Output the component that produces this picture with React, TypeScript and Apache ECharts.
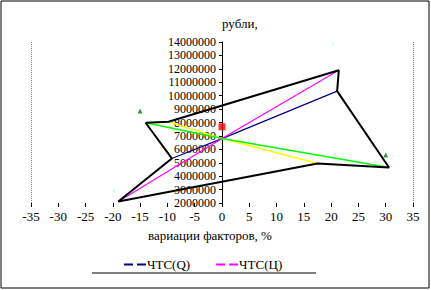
import React, { useEffect, useRef } from "react";
import * as echarts from "echarts";

// Sensitivity lines (x: variation of factor, %; y: NPV, rubles)
const qX = [-9.2, 0, 21.1];
const qY = [5320000, 6800000, 10340000];
const cX = [-19.0, 0, 21.4];
const cY = [2110000, 6800000, 11890000];
const yellowX = [-9.8, 0, 17.5];
const yellowY = [8050000, 6800000, 4950000];
const greenX = [-14.0, 0, 30.6];
const greenY = [7980000, 6800000, 4650000];
// Envelope connecting the line endpoints
const envX = [-14.0, -9.8, 21.4, 21.1, 30.6, 17.5, -19.0, -9.2, -14.0];
const envY = [7980000, 8050000, 11890000, 10340000, 4650000, 4950000, 2110000, 5320000, 7980000];
// Single markers
const triX = [-15, 30];
const triY = [8850000, 5570000];
const squareX = [0];
const squareY = [7680000];
const cyanX = [20.3, -19.8];
const cyanY = [13930000, 2970000];

const xTicks = { min: -35, max: 35, interval: 5 };
const yTicks = { min: 2000000, max: 14000000, interval: 1000000 };
const legendNames = ["ЧТС(Q)", "ЧТС(Ц)"];

const zip = (xs: number[], ys: number[]) => xs.map((x, i) => [x, ys[i]]);

const FONT = "Liberation Serif";
const W = 431;
const GRID = { left: 31, right: 18, top: 42, bottom: 87 };

export default function App() {
  const ref = useRef<HTMLDivElement>(null);
  useEffect(() => {
    if (!ref.current) return;
    const chart = echarts.init(ref.current, undefined, { renderer: "svg" });
    const textStyle = { fontFamily: FONT, fontSize: 13, color: "#000" };
    const plotW = W - GRID.left - GRID.right;
    const yAxisOffset = -((0 - xTicks.min) / (xTicks.max - xTicks.min)) * plotW;
    chart.setOption({
      animation: false,
      backgroundColor: "#fff",
      textStyle,
      grid: { ...GRID, outerBoundsMode: "none", containLabel: false },
      xAxis: {
        type: "value",
        min: xTicks.min,
        max: xTicks.max,
        interval: xTicks.interval,
        name: "вариации факторов, %",
        nameLocation: "middle",
        nameGap: 26,
        nameTextStyle: { ...textStyle, padding: [0, 24, 0, 0] },
        axisLine: { show: true, onZero: false, lineStyle: { color: "rgba(0,0,0,0)" } },
        axisTick: { show: true, length: 4, lineStyle: { color: "#000" } },
        axisLabel: { ...textStyle, margin: 7 },
        splitLine: { show: false },
      },
      yAxis: {
        type: "value",
        position: "left",
        offset: yAxisOffset,
        min: yTicks.min,
        max: yTicks.max,
        interval: yTicks.interval,
        name: "рубли,",
        nameLocation: "end",
        nameGap: 12,
        nameTextStyle: { ...textStyle, align: "left" },
        axisLine: { show: true, onZero: false, lineStyle: { color: "#000", width: 1 } },
        axisTick: { show: true, length: 3, lineStyle: { color: "#000" } },
        axisLabel: {
          ...textStyle,
          fontSize: 12,
          lineHeight: 12,
          margin: 6,
          formatter: (v: number) => String(v),
        },
        splitLine: { show: false },
      },
      legend: {
        data: legendNames,
        left: 119,
        top: 253,
        itemWidth: 22,
        itemHeight: 2,
        itemGap: 26,
        icon: "path://M0,0H9V2H0Z M13,0H22V2H13Z",
        textStyle: { ...textStyle, padding: [0, 0, 0, -4] },
      },
      graphic: [
        {
          type: "rect",
          shape: { x: 1, y: 1, width: 428, height: 287 },
          style: { fill: null, stroke: "#000", lineWidth: 1 },
          silent: true,
        },
        {
          type: "line",
          shape: { x1: 92, y1: 273, x2: 316, y2: 273 },
          style: { stroke: "#000", lineWidth: 1 },
          silent: true,
        },
      ],
      series: [
        {
          name: "ЧТС(Q)",
          type: "line",
          data: zip(qX, qY),
          symbol: "none",
          lineStyle: { color: "#000080", width: 1.2 },
          itemStyle: { color: "#000080" },
          z: 2,
        },
        {
          name: "ЧТС(Ц)",
          type: "line",
          data: zip(cX, cY),
          symbol: "none",
          lineStyle: { color: "#ff00ff", width: 1.2 },
          itemStyle: { color: "#ff00ff" },
          z: 2,
        },
        {
          name: "yellow",
          type: "line",
          data: zip(yellowX, yellowY),
          symbol: "none",
          lineStyle: { color: "#ffff00", width: 1.5 },
          itemStyle: { color: "#ffff00" },
          z: 2,
        },
        {
          name: "green",
          type: "line",
          data: zip(greenX, greenY),
          symbol: "none",
          lineStyle: { color: "#00ff00", width: 1.5 },
          itemStyle: { color: "#00ff00" },
          z: 2,
        },
        {
          name: "envelope",
          type: "line",
          data: zip(envX, envY),
          symbol: "none",
          lineStyle: { color: "#000", width: 2 },
          itemStyle: { color: "#000" },
          z: 3,
          markLine: {
            silent: true,
            symbol: "none",
            label: { show: false },
            lineStyle: { color: "#808080", type: "dotted", width: 1 },
            data: [{ xAxis: xTicks.min }, { xAxis: xTicks.max }],
          },
        },
        {
          name: "triangles",
          type: "scatter",
          data: zip(triX, triY),
          symbol: "triangle",
          symbolSize: 5,
          itemStyle: { color: "#008000" },
          z: 4,
        },
        {
          name: "square",
          type: "scatter",
          data: zip(squareX, squareY),
          symbol: "rect",
          symbolSize: 7,
          itemStyle: { color: "#ff0000" },
          z: 4,
        },
        {
          name: "cyan",
          type: "scatter",
          data: zip(cyanX, cyanY),
          symbol: "triangle",
          symbolSize: 3,
          itemStyle: { color: "#b8f4f4" },
          z: 4,
        },
      ],
    });
    return () => chart.dispose();
  }, []);
  return (
    <div
      ref={ref}
      style={{ position: "absolute", left: 0, top: 0, width: W, height: 290 }}
    />
  );
}
